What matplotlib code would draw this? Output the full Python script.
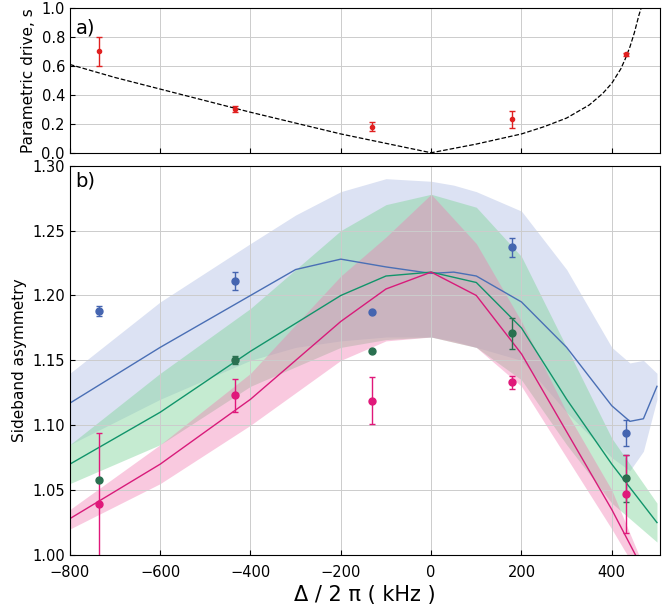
import numpy as np
import matplotlib.pyplot as plt

# top panel data
pd_x = [-735, -435, -130, 178, 432]
pd_y = [0.70, 0.30, 0.18, 0.23, 0.68]
pd_err = [0.10, 0.02, 0.03, 0.06, 0.01]
curve_a_x = [-800, -700, -600, -500, -400, -300, -200, -100, 0, 100, 200, 250, 300, 350, 380, 400, 420, 430, 440, 450, 460, 465, 475]
curve_a_y = [0.61, 0.52, 0.44, 0.36, 0.28, 0.205, 0.13, 0.065, 0.0, 0.06, 0.13, 0.18, 0.24, 0.33, 0.41, 0.48, 0.58, 0.65, 0.73, 0.83, 0.95, 1.0, 1.1]

# bottom panel data
det_x = [-735, -435, -130, 178, 432]
blue_y = [1.188, 1.211, 1.187, 1.237, 1.094]
blue_e = [0.004, 0.007, 0.0, 0.007, 0.01]
green_y = [1.058, 1.150, 1.157, 1.171, 1.059]
green_e = [0.0, 0.003, 0.0, 0.012, 0.018]
pink_y = [1.039, 1.123, 1.119, 1.133, 1.047]
pink_e = [0.055, 0.013, 0.018, 0.005, 0.03]

bx = [-800, -600, -400, -300, -200, -100, 0, 50, 100, 200, 300, 400, 440, 470, 500]
b_mid = [1.117, 1.16, 1.20, 1.22, 1.228, 1.222, 1.217, 1.218, 1.215, 1.195, 1.16, 1.115, 1.103, 1.105, 1.13]
b_up = [1.14, 1.195, 1.24, 1.262, 1.28, 1.29, 1.288, 1.285, 1.28, 1.265, 1.22, 1.16, 1.148, 1.15, 1.14]
b_lo = [1.085, 1.12, 1.15, 1.16, 1.165, 1.168, 1.168, 1.165, 1.16, 1.15, 1.11, 1.075, 1.065, 1.08, 1.12]

gx = [-800, -600, -400, -200, -100, 0, 100, 200, 300, 400, 500]
g_mid = [1.07, 1.11, 1.157, 1.20, 1.215, 1.218, 1.21, 1.175, 1.12, 1.07, 1.025]
g_up = [1.085, 1.14, 1.19, 1.25, 1.27, 1.278, 1.268, 1.23, 1.16, 1.09, 1.04]
g_lo = [1.055, 1.085, 1.13, 1.16, 1.166, 1.168, 1.16, 1.135, 1.085, 1.04, 1.01]

px = [-800, -600, -400, -200, -100, 0, 100, 200, 300, 400, 460]
p_mid = [1.028, 1.07, 1.12, 1.18, 1.205, 1.218, 1.20, 1.155, 1.095, 1.035, 0.995]
p_up = [1.035, 1.085, 1.14, 1.215, 1.245, 1.278, 1.24, 1.18, 1.11, 1.05, 1.0]
p_lo = [1.02, 1.055, 1.10, 1.15, 1.165, 1.168, 1.16, 1.13, 1.075, 1.02, 0.985]

fig = plt.figure(figsize=(6.65, 6.16), dpi=100)
ax1 = fig.add_axes([0.105, 0.752, 0.887, 0.235])
ax2 = fig.add_axes([0.105, 0.099, 0.887, 0.632])

ax1.plot(curve_a_x, curve_a_y, 'k--', lw=0.9)
ax1.errorbar(pd_x, pd_y, yerr=pd_err, fmt='o', ms=3, color='#e02020', capsize=2, elinewidth=1)
ax1.set_xlim(-800, 506)
ax1.set_ylim(0, 1.0)
ax1.set_yticks(np.arange(0, 1.01, 0.2))
ax1.set_yticklabels(['%.1f' % v for v in np.arange(0, 1.01, 0.2)])
ax1.set_xticks(range(-800, 401, 200))
ax1.set_xticklabels([])
ax1.set_ylabel('Parametric drive, s', fontsize=11)
ax1.grid(color='#cccccc', lw=0.7)
ax1.text(0.01, 0.93, 'a)', transform=ax1.transAxes, fontsize=14, va='top')

ax2.fill_between(bx, b_lo, b_up, color='#c5cfeb', alpha=0.6, lw=0)
ax2.fill_between(gx, g_lo, g_up, color='#7fd49a', alpha=0.45, lw=0)
ax2.fill_between(px, p_lo, p_up, color='#f07ab0', alpha=0.4, lw=0)
ax2.plot(bx, b_mid, color='#4a6fb5', lw=1)
ax2.plot(gx, g_mid, color='#11946a', lw=1)
ax2.plot(px, p_mid, color='#d81b7a', lw=1)
ax2.errorbar(det_x, blue_y, yerr=blue_e, fmt='o', ms=5, color='#4565b0', capsize=2, elinewidth=1)
ax2.errorbar(det_x, green_y, yerr=green_e, fmt='o', ms=5, color='#2a7050', capsize=2, elinewidth=1)
ax2.errorbar(det_x, pink_y, yerr=pink_e, fmt='o', ms=5, color='#e0187a', capsize=2, elinewidth=1)
ax2.set_xlim(-800, 506)
ax2.set_ylim(1.0, 1.30)
ax2.set_yticks(np.arange(1.0, 1.301, 0.05))
ax2.set_yticklabels(['%.2f' % v for v in np.arange(1.0, 1.301, 0.05)])
ax2.set_xticks(range(-800, 401, 200))
ax2.set_ylabel('Sideband asymmetry', fontsize=11)
ax2.set_xlabel('Δ / 2 π ( kHz )', fontsize=15)
ax2.grid(color='#cccccc', lw=0.7)
ax2.text(0.01, 0.985, 'b)', transform=ax2.transAxes, fontsize=14, va='top')

for ax in (ax1, ax2):
    ax.tick_params(labelsize=10.5, direction='in')
ax2.tick_params(axis='x', pad=7)

fig.savefig('out.png', dpi=100)
